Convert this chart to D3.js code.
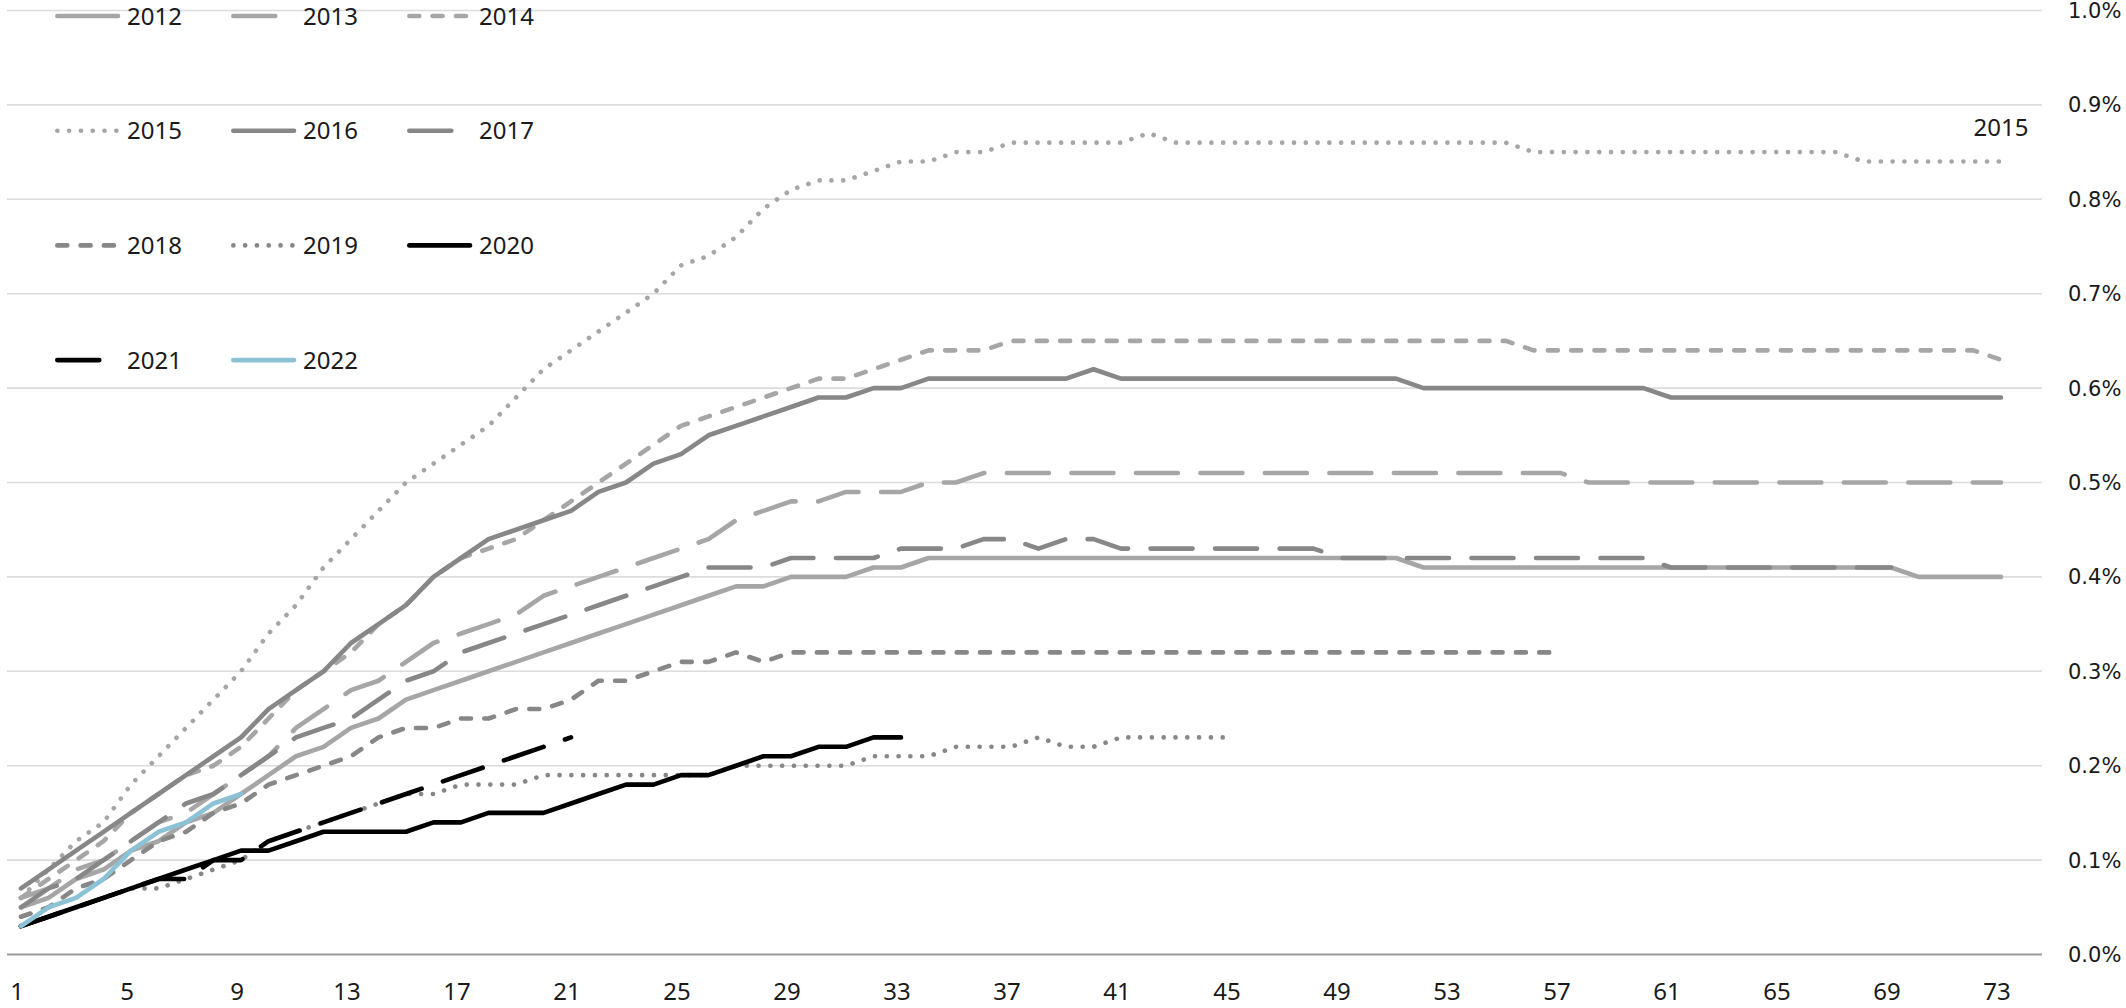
<!DOCTYPE html>
<html><head><meta charset="utf-8">
<script src="https://cdn.jsdelivr.net/npm/d3@7"></script>
<style>html,body{margin:0;padding:0;background:#fff;overflow:hidden}</style>
</head><body><svg id="c" width="2126" height="1008"></svg>
<script>
// ---- data ----
const days = [1,2,3,4,5,6,7,8,9,10,11,12,13,14,15,16,17,18,19,20,21,22,23,24,25,26,27,28,29,30,31,32,33,34,35,36,37,38,39,40,41,42,43,44,45,46,47,48,49,50,51,52,53,54,55,56,57,58,59,60,61,62,63,64,65,66,67,68,69,70,71,72,73];
const xTickLabels = ["1","5","9","13","17","21","25","29","33","37","41","45","49","53","57","61","65","69","73"];
const yTicks = [0,0.1,0.2,0.3,0.4,0.5,0.6,0.7,0.8,0.9,1.0];
const years = ["2012","2013","2014","2015","2016","2017","2018","2019","2020","2021","2022"];

const v2012 = [0.05,0.06,0.08,0.09,0.11,0.12,0.14,0.15,0.17,0.19,0.21,0.22,0.24,0.25,0.27,0.28,0.29,0.30,0.31,0.32,0.33,0.34,0.35,0.36,0.37,0.38,0.39,0.39,0.40,0.40,0.40,0.41,0.41,
 0.42,0.42,0.42,0.42,0.42,0.42,0.42,0.42,0.42,0.42,0.42,0.42,0.42,0.42,0.42,0.42,0.42,0.42,
 0.41,0.41,0.41,0.41,0.41,0.41,0.41,0.41,0.41,0.41,0.41,0.41,0.41,0.41,0.41,0.41,0.41,0.41,
 0.40,0.40,0.40,0.40];
const v2013 = [0.06,0.07,0.09,0.10,0.12,0.14,0.15,0.17,0.19,0.21,0.24,0.26,0.28,0.29,0.31,0.33,0.34,0.35,0.36,0.38,0.39,0.40,0.41,0.42,0.43,0.44,0.46,0.47,0.48,0.48,0.49,0.49,0.49,0.50,0.50,
 0.51,0.51,0.51,0.51,0.51,0.51,0.51,0.51,0.51,0.51,0.51,0.51,0.51,0.51,0.51,0.51,0.51,0.51,0.51,0.51,0.51,0.51,
 0.50,0.50,0.50,0.50,0.50,0.50,0.50,0.50,0.50,0.50,0.50,0.50,0.50,0.50,0.50,0.50];
const v2014 = [0.06,0.08,0.10,0.12,0.15,0.17,0.19,0.20,0.22,0.25,0.28,0.30,0.32,0.35,0.37,0.40,0.42,0.43,0.44,0.46,0.48,0.50,0.52,0.54,0.56,0.57,0.58,0.59,0.60,0.61,0.61,0.62,0.63,0.64,0.64,0.64,
 0.65,0.65,0.65,0.65,0.65,0.65,0.65,0.65,0.65,0.65,0.65,0.65,0.65,0.65,0.65,0.65,0.65,0.65,0.65,
 0.64,0.64,0.64,0.64,0.64,0.64,0.64,0.64,0.64,0.64,0.64,0.64,0.64,0.64,0.64,0.64,0.64,
 0.63];
const v2015 = [0.06,0.09,0.12,0.14,0.18,0.21,0.24,0.27,0.30,0.34,0.37,0.41,0.44,0.47,0.50,0.52,0.54,0.56,0.59,0.62,0.64,0.66,0.68,0.70,0.73,0.74,0.76,0.79,0.81,0.82,0.82,0.83,0.84,0.84,0.85,0.85,
 0.86,0.86,0.86,0.86,0.86,0.87,
 0.86,0.86,0.86,0.86,0.86,0.86,0.86,0.86,0.86,0.86,0.86,0.86,0.86,
 0.85,0.85,0.85,0.85,0.85,0.85,0.85,0.85,0.85,0.85,0.85,0.85,
 0.84,0.84,0.84,0.84,0.84,0.84];
const v2016 = [0.07,0.09,0.11,0.13,0.15,0.17,0.19,0.21,0.23,0.26,0.28,0.30,0.33,0.35,0.37,0.40,0.42,0.44,0.45,0.46,0.47,0.49,0.50,0.52,0.53,0.55,0.56,0.57,0.58,0.59,0.59,0.60,0.60,
 0.61,0.61,0.61,0.61,0.61,0.61,0.62,
 0.61,0.61,0.61,0.61,0.61,0.61,0.61,0.61,0.61,0.61,0.61,
 0.60,0.60,0.60,0.60,0.60,0.60,0.60,0.60,0.60,
 0.59,0.59,0.59,0.59,0.59,0.59,0.59,0.59,0.59,0.59,0.59,0.59,0.59];
const v2017 = [0.05,0.07,0.08,0.10,0.12,0.14,0.16,0.17,0.19,0.21,0.23,0.24,0.25,0.27,0.29,0.30,0.32,0.33,0.34,0.35,0.36,0.37,0.38,0.39,0.40,0.41,0.41,0.41,0.42,0.42,0.42,0.42,0.43,0.43,0.43,0.44,0.44,0.43,0.44,0.44,
 0.43,0.43,0.43,0.43,0.43,0.43,0.43,0.43,
 0.42,0.42,0.42,0.42,0.42,0.42,0.42,0.42,0.42,0.42,0.42,0.42,
 0.41,0.41,0.41,0.41,0.41,0.41,0.41,0.41,0.41];
const v2018 = [0.04,0.05,0.07,0.08,0.10,0.12,0.13,0.15,0.16,0.18,0.19,0.20,0.21,0.23,0.24,0.24,0.25,0.25,0.26,0.26,0.27,0.29,0.29,0.30,0.31,0.31,0.32,0.31,
 0.32,0.32,0.32,0.32,0.32,0.32,0.32,0.32,0.32,0.32,0.32,0.32,0.32,0.32,0.32,0.32,0.32,0.32,0.32,0.32,0.32,0.32,0.32,0.32,0.32,0.32,0.32,0.32,0.32];
const v2019 = [0.03,0.04,0.05,0.06,0.07,0.07,0.08,0.09,0.10,0.12,0.13,0.14,0.15,0.16,0.17,0.17,0.18,0.18,0.18,
 0.19,0.19,0.19,0.19,0.19,0.19,0.19,0.20,0.20,0.20,0.20,0.20,0.21,0.21,0.21,0.22,0.22,0.22,0.23,0.22,0.22,0.23,0.23,0.23,0.23,0.23];
const v2020 = [0.03,0.04,0.05,0.06,0.07,0.08,0.09,0.10,0.11,0.11,0.12,0.13,0.13,0.13,0.13,0.14,0.14,0.15,0.15,0.15,0.16,0.17,0.18,0.18,0.19,0.19,0.20,0.21,0.21,0.22,0.22,0.23,0.23];
const v2021 = [0.03,0.04,0.05,0.06,0.07,0.08,0.08,0.10,0.10,0.12,0.13,0.14,0.15,0.16,0.17,0.18,0.19,0.20,0.21,0.22,0.23];
const v2022 = [0.03,0.05,0.06,0.08,0.11,0.13,0.14,0.16,0.17];
const seriesValues = [v2012,v2013,v2014,v2015,v2016,v2017,v2018,v2019,v2020,v2021,v2022];
const endLabel = "2015";

// ---- styles ----
const LIGHT = "#a6a6a6", DARK = "#878787", BLACK = "#000000", BLUE = "#8cc2d6";
const DASH = {solid:null, long:"42,22.5", dash:"10,13.3", dot:"0.1,11.7"};
const styles = [
  {c:LIGHT,d:"solid"},{c:LIGHT,d:"long"},{c:LIGHT,d:"dash"},{c:LIGHT,d:"dot"},
  {c:DARK,d:"solid"},{c:DARK,d:"long"},{c:DARK,d:"dash"},{c:DARK,d:"dot"},
  {c:BLACK,d:"solid"},{c:BLACK,d:"long"},{c:BLUE,d:"solid"}
];
const LW = 4.6;

const svg = d3.select("#c");
const x = d3.scaleLinear().domain([1,73]).range([21,2001]);
const y = d3.scaleLinear().domain([0,1]).range([954.5,10.5]);

// gridlines
svg.append("g").selectAll("line").data(yTicks.filter(t=>t>0)).join("line")
  .attr("x1",7).attr("x2",2042).attr("y1",d=>y(d)).attr("y2",d=>y(d))
  .attr("stroke","#dcdcdc").attr("stroke-width",1.6);
svg.append("line").attr("x1",7).attr("x2",2042).attr("y1",y(0)).attr("y2",y(0))
  .attr("stroke","#9a9a9a").attr("stroke-width",2);

// y labels (right)
const fmt = d3.format(".1%");
svg.append("g").selectAll("text").data(yTicks).join("text")
  .attr("x",2068).attr("y",d=>y(d)).attr("dy","0.36em")
  .attr("font-family","DejaVu Sans").attr("font-size",21).attr("fill","#1a1a1a")
  .text(d=>fmt(d/100));

// x labels
svg.append("g").selectAll("text").data(xTickLabels).join("text")
  .attr("x",d=>x(+d)-4).attr("y",1000).attr("text-anchor","middle")
  .attr("font-family","Noto Sans").attr("font-size",24).attr("fill","#1a1a1a")
  .text(d=>d);

// lines
const line = d3.line().x((d,i)=>x(days[i])).y(d=>y(d));
const gL = svg.append("g");
seriesValues.forEach((vals,k)=>{
  const st = styles[k];
  gL.append("path").datum(vals).attr("d",line)
    .attr("fill","none").attr("stroke",st.c).attr("stroke-width",LW)
    .attr("stroke-linecap","round").attr("stroke-linejoin","round")
    .attr("stroke-dasharray",DASH[st.d]);
});

// end label for 2015
const i15 = years.indexOf(endLabel);
const last15 = seriesValues[i15].length;
svg.append("text").attr("x",x(days[last15-1])).attr("y",136).attr("text-anchor","middle")
  .attr("font-family","Noto Sans").attr("font-size",24).attr("fill","#1a1a1a").text(endLabel);

// legend
const gLeg = svg.append("g");
years.forEach((yr,k)=>{
  const col = k%3, row = Math.floor(k/3);
  const x0 = 55 + col*176, yy = 16 + row*114.7;
  const st = styles[k];
  gLeg.append("line").attr("x1",x0+2.3).attr("x2",x0+63).attr("y1",yy).attr("y2",yy)
    .attr("stroke",st.c).attr("stroke-width",LW).attr("stroke-linecap","round")
    .attr("stroke-dasharray",DASH[st.d]);
  gLeg.append("text").attr("x",x0+72).attr("y",yy+8.5)
    .attr("font-family","Noto Sans").attr("font-size",24).attr("fill","#1a1a1a").text(yr);
});
</script></body></html>
